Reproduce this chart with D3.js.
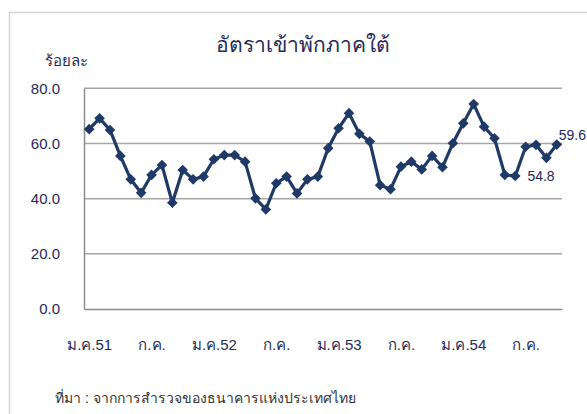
<!DOCTYPE html>
<html>
<head>
<meta charset="utf-8">
<script src="https://cdn.jsdelivr.net/npm/d3@7"></script>
<style>
  body { margin: 0; background: #fff; }
  text { font-family: "Liberation Sans", Arial, "Noto Sans", sans-serif; }
</style>
</head>
<body>
<div class="myChart"></div>
<script>
// Data: monthly occupancy, Jan 2551 - Oct 2554
var months = ["ม.ค.", "ก.พ.", "มี.ค.", "เม.ย.", "พ.ค.", "มิ.ย.", "ก.ค.", "ส.ค.", "ก.ย.", "ต.ค.", "พ.ย.", "ธ.ค."];
var years = ["51", "52", "53", "54"];
var occupancy = [
  65.2, 69.1, 64.9, 55.5, 47.0, 42.1, 48.6, 52.2, 38.5, 50.4, 47.0, 48.0,
  54.3, 55.8, 55.8, 53.4, 40.1, 36.1, 45.6, 48.0, 41.9, 47.0, 48.0, 58.3,
  65.5, 71.0, 63.5, 60.7, 44.9, 43.4, 51.6, 53.4, 50.6, 55.5, 51.4, 60.1,
  67.3, 74.3, 66.1, 61.9, 48.6, 48.2, 58.8, 59.5, 54.8, 59.6
];
var yTicks = [0, 20, 40, 60, 80];
var labelled = [44, 45]; // indexes with data labels

var categories = occupancy.map(function(d, i) {
  return months[i % 12] + years[Math.floor(i / 12)];
});

//only January (with year) and July are labelled
function tickText(c, i) {
  if (i % 12 === 0) return c;
  if (i % 12 === 6) return months[6];
  return "";
}

//Canvas Size
var width = 587;
var height = 414;
var plot = { left: 84, right: 562, top: 88.3, bottom: 309 };
var navy = "#1f3a66";
var textCol = "#1f2a55";

var svg = d3.select(".myChart").append("svg")
    .attr("width", width)
    .attr("height", height);

//Chart border
svg.append("rect")
    .attr("x", 9.5).attr("y", 12.5)
    .attr("width", 620).attr("height", 430)
    .attr("fill", "none")
    .attr("stroke", "#d4d4d4")
    .attr("stroke-width", 1.5);

//Scales
var xScale = d3.scalePoint()
    .domain(categories)
    .range([plot.left, plot.right])
    .padding(0.5);
var yScale = d3.scaleLinear()
    .domain([0, 80])
    .range([plot.bottom, plot.top]);

//Grid lines
svg.append("g")
    .selectAll("line")
    .data(yTicks.slice(1))
    .enter().append("line")
    .attr("x1", plot.left).attr("x2", plot.right)
    .attr("y1", function(d) { return yScale(d); })
    .attr("y2", function(d) { return yScale(d); })
    .attr("stroke", "#a6a6a6")
    .attr("stroke-width", 1.5);

//Axes
var yAxis = d3.axisLeft(yScale)
    .tickValues(yTicks)
    .tickSize(0)
    .tickPadding(24)
    .tickFormat(d3.format(".1f"));
var yG = svg.append("g")
    .attr("transform", "translate(" + plot.left + ",0)")
    .call(yAxis);
yG.select(".domain").attr("stroke", "#8c8c8c").attr("stroke-width", 1.5);
yG.selectAll("text")
    .attr("font-size", 15)
    .attr("fill", textCol);

var xAxis = d3.axisBottom(xScale)
    .tickSize(0)
    .tickPadding(30)
    .tickFormat(tickText);
var xG = svg.append("g")
    .attr("transform", "translate(0," + plot.bottom + ")")
    .call(xAxis);
xG.select(".domain").attr("stroke", "#8c8c8c").attr("stroke-width", 1.5);
xG.selectAll("text")
    .attr("font-size", 15)
    .attr("fill", textCol);

//Line
var line = d3.line()
    .x(function(d, i) { return xScale(categories[i]); })
    .y(function(d) { return yScale(d); });

svg.append("path")
    .datum(occupancy)
    .attr("d", line)
    .attr("fill", "none")
    .attr("stroke", navy)
    .attr("stroke-width", 3.2);

//Diamond markers
svg.append("g")
    .selectAll("path")
    .data(occupancy)
    .enter().append("path")
    .attr("d", d3.symbol().type(d3.symbolDiamond2).size(72))
    .attr("transform", function(d, i) {
      return "translate(" + xScale(categories[i]) + "," + yScale(d) + ")";
    })
    .attr("fill", navy);

//Data labels
svg.append("g")
    .selectAll("text")
    .data(labelled)
    .enter().append("text")
    .attr("x", function(i) { return i === 45 ? xScale(categories[i]) + 2 : xScale(categories[i]) - 19; })
    .attr("y", function(i) { return i === 45 ? yScale(occupancy[i]) - 5 : yScale(occupancy[i]) + 23; })
    .attr("font-size", 14)
    .attr("fill", textCol)
    .text(function(i) { return d3.format(".1f")(occupancy[i]); });

//Titles
svg.append("text")
    .attr("x", 303).attr("y", 52)
    .attr("text-anchor", "middle")
    .attr("font-size", 21)
    .attr("fill", textCol)
    .text("อัตราเข้าพักภาคใต้");

svg.append("text")
    .attr("x", 45).attr("y", 66)
    .attr("font-size", 15)
    .attr("fill", textCol)
    .text("ร้อยละ");

svg.append("text")
    .attr("x", 55).attr("y", 403)
    .attr("font-size", 14)
    .attr("fill", "#333")
    .text("ที่มา : จากการสำรวจของธนาคารแห่งประเทศไทย");
</script>
</body>
</html>
